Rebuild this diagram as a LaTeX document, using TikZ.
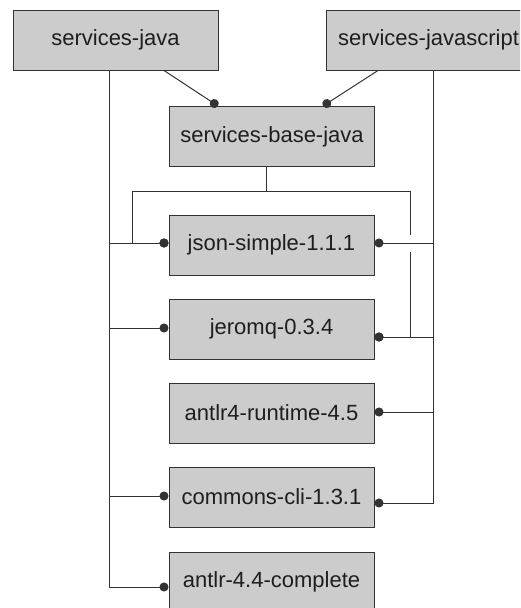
\documentclass[tikz,border=0pt]{standalone}
\usepackage{fontspec}
\setmainfont{Liberation Sans}
\usetikzlibrary{arrows.meta}
\definecolor{boxfill}{HTML}{CCCCCC}
\definecolor{ink}{HTML}{333333}
\definecolor{label}{HTML}{1E1E1E}
\begin{document}
\begin{tikzpicture}[x=1pt,y=-1pt,
  pkg/.style={draw=ink, fill=boxfill, line width=1pt, minimum width=205pt,
    minimum height=60pt, inner sep=0pt, text=label,
    font=\fontsize{22}{26}\selectfont},
  dep/.style={draw=ink, line width=1pt, -{Circle[length=9pt]}}]
\useasboundingbox (0,0) rectangle (520,608);
\clip (0,0) rectangle (520,608);

% packages
\node[pkg] (sj)   at (115.5,40)  {services-java};
\node[pkg] (sjs)  at (428.5,40)  {services-javascript};
\node[pkg] (sbj)  at (272,136.5) {services-base-java};
\node[pkg] (json) at (271.5,245) {json-simple-1.1.1};
\node[pkg] (zmq)  at (271.5,329) {jeromq-0.3.4};
\node[pkg] (rt)   at (271.5,413) {antlr4-runtime-4.5};
\node[pkg] (cli)  at (271.5,497) {commons-cli-1.3.1};
\node[pkg] (full) at (271.5,582) {antlr-4.4-complete};

% services -> base
\draw[dep] ([xshift=48.5pt]sj.south) -- ([xshift=-54pt]sbj.north);
\draw[dep] ([xshift=-50.5pt]sjs.south) -- ([xshift=51pt]sbj.north);

% services-java -> libraries (left bus)
\draw[dep] ([xshift=-6.5pt]sj.south) |- ([yshift=2pt]json.west);
\draw[dep] ([xshift=-6.5pt]sj.south) |- ([yshift=1pt]zmq.west);
\draw[dep] ([xshift=-6.5pt]sj.south) |- ([yshift=1pt]cli.west);
\draw[dep] ([xshift=-6.5pt]sj.south) |- ([yshift=-5pt]full.west);

% services-base-java -> libraries
\draw[dep] ([xshift=-6pt]sbj.south) -- ++(0,24) -| ([xshift=-36pt,yshift=2pt]json.west)
  -- ([yshift=2pt]json.west);
\draw[dep] ([xshift=-6pt]sbj.south) -- ++(0,24) -| ([xshift=36pt,yshift=-8pt]zmq.east)
  -- ([yshift=-8pt]zmq.east);

% services-javascript -> libraries (right bus)
\draw[dep] ([xshift=4.5pt]sjs.south) |- ([yshift=-8pt]zmq.east);
\draw[dep] ([xshift=4.5pt]sjs.south) |- ([yshift=1pt]rt.east);
\draw[dep] ([xshift=4.5pt]sjs.south) |- ([yshift=-6pt]cli.east);
% line jump where the json-simple branch crosses the base-java branch
\fill[white] ([xshift=33pt,yshift=10pt]json.east) rectangle ([xshift=39pt,yshift=-7pt]json.east);
\draw[dep] ([xshift=4.5pt]sjs.south) |- ([yshift=2pt]json.east);
\end{tikzpicture}
\end{document}
